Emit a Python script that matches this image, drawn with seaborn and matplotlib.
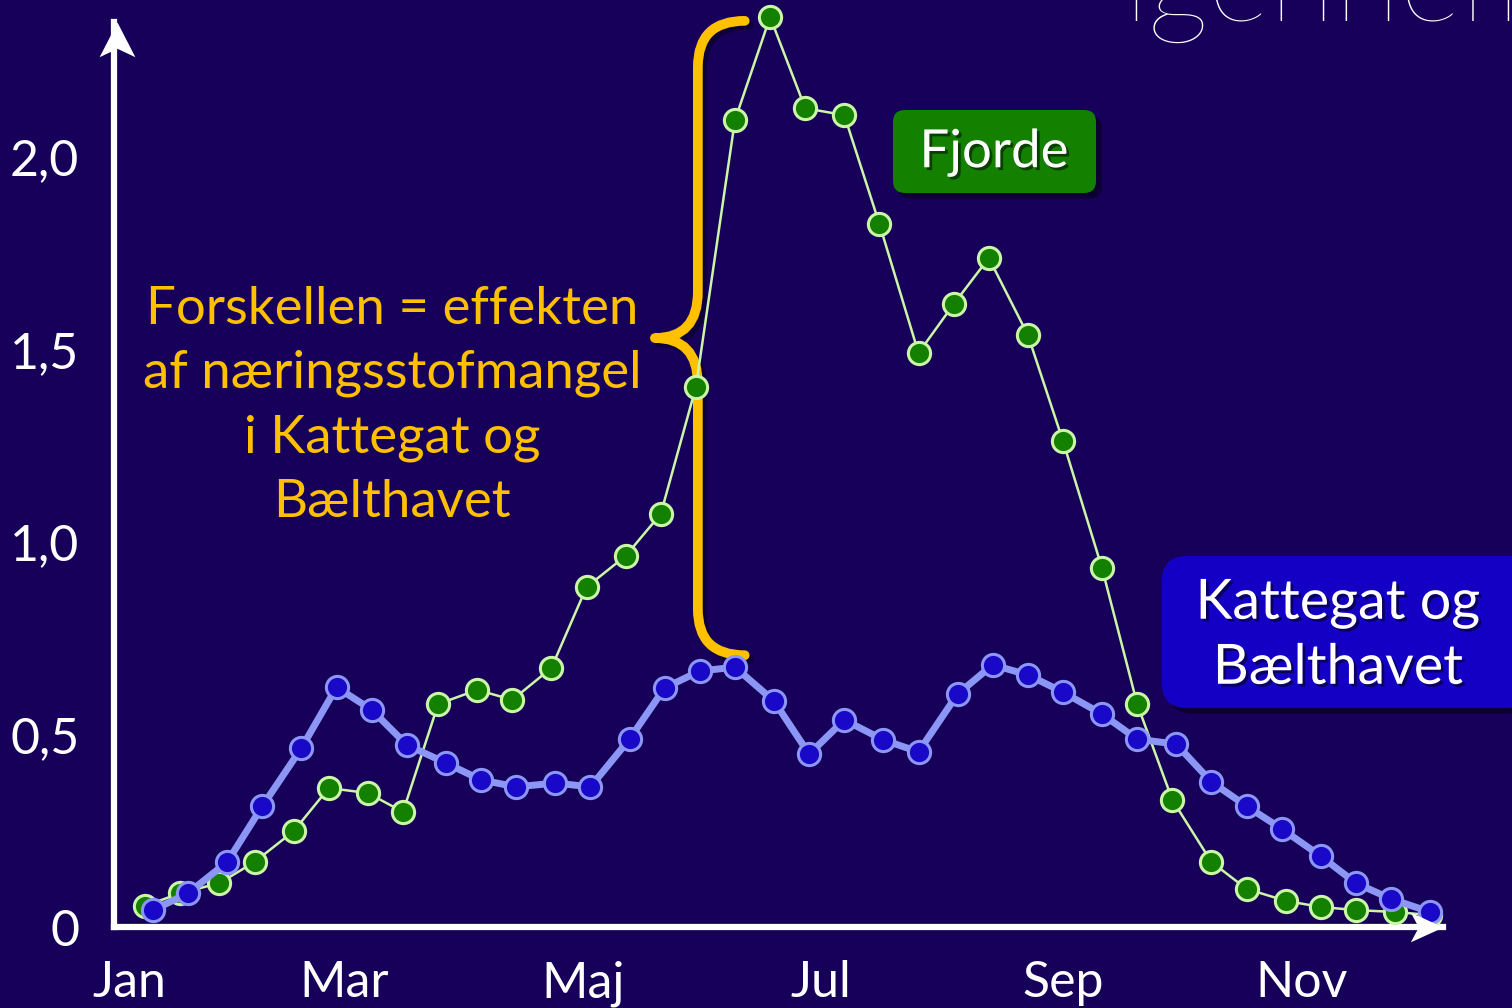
import matplotlib
matplotlib.use("Agg")
import matplotlib.pyplot as plt
import matplotlib.patheffects as pe
from matplotlib.patches import FancyBboxPatch, PathPatch
from matplotlib.path import Path
import seaborn as sns

# Day of year for each sample
fjord_day = [8, 17, 27, 36, 46, 55, 65, 74, 83, 93, 102, 112, 121, 131, 140, 149, 159, 168,
             177, 187, 196, 206, 215, 224, 234, 243, 253, 262, 271, 281, 290, 300, 309, 318, 328, 337]
fjord_value = [0.055, 0.088, 0.114, 0.169, 0.249, 0.361, 0.348, 0.299, 0.579, 0.616, 0.590, 0.673,
               0.883, 0.964, 1.073, 1.403, 2.096, 2.364, 2.127, 2.109, 1.826, 1.491, 1.618, 1.738,
               1.538, 1.262, 0.932, 0.579, 0.330, 0.169, 0.099, 0.068, 0.052, 0.044, 0.039, 0.031]

kattegat_day = [10, 19, 29, 38, 48, 57, 66, 75, 85, 94, 103, 113, 122, 132, 141, 150, 159, 169,
                178, 187, 197, 206, 216, 225, 234, 243, 253, 262, 272, 281, 290, 299, 309, 318, 327, 337]
kattegat_value = [0.044, 0.088, 0.169, 0.314, 0.465, 0.623, 0.564, 0.473, 0.426, 0.382, 0.364, 0.374,
                  0.364, 0.488, 0.621, 0.665, 0.675, 0.587, 0.449, 0.538, 0.486, 0.455, 0.605, 0.681,
                  0.655, 0.610, 0.553, 0.488, 0.475, 0.377, 0.314, 0.255, 0.184, 0.114, 0.073, 0.039]

month_ticks = [4, 59, 120, 181, 243, 304]
month_labels = ["Jan", "Mar", "Maj", "Jul", "Sep", "Nov"]
y_ticks = [0, 0.5, 1.0, 1.5, 2.0]
y_labels = ["0", "0,5", "1,0", "1,5", "2,0"]

BG = "#17005a"
GOLD = "#ffc000"

sns.set_style("white")
plt.rcParams["font.family"] = ["Lato", "DejaVu Sans"]

fig = plt.figure(figsize=(15.12, 10.08), dpi=100, facecolor=BG)
ax = fig.add_axes([114 / 1512, 81 / 1008, 1329 / 1512, 905 / 1008])
ax.set_facecolor(BG)

sns.lineplot(x=fjord_day, y=fjord_value, ax=ax, sort=False, color="#ccf5a8", lw=1.8,
             marker="o", markersize=16, markerfacecolor="#138000",
             markeredgecolor="#ccf5a8", markeredgewidth=2.2, zorder=3)
sns.lineplot(x=kattegat_day, y=kattegat_value, ax=ax, sort=False, color="#8c96f5", lw=5,
             marker="o", markersize=16, markerfacecolor="#1a08c8",
             markeredgecolor="#8c96f5", markeredgewidth=2.2, zorder=4)
for line in ax.lines:
    line.set_clip_on(False)

ax.set_xlim(0, 340.3)
ax.set_ylim(0, 2.351)
for side in ["top", "right"]:
    ax.spines[side].set_visible(False)
for side in ["left", "bottom"]:
    ax.spines[side].set_color("white")
    ax.spines[side].set_linewidth(4.5)
    ax.spines[side].set_zorder(2.5)

# stealth arrow heads at the axis ends
up_head = Path([(0, 0), (-17, -33), (0, -25), (17, -33), (0, 0)],
               [Path.MOVETO, Path.LINETO, Path.LINETO, Path.LINETO, Path.CLOSEPOLY])
right_head = Path([(0, 0), (-33, 15), (-25, 0), (-33, -15), (0, 0)],
                  [Path.MOVETO, Path.LINETO, Path.LINETO, Path.LINETO, Path.CLOSEPOLY])
ax.plot([0.002], [1], transform=ax.transAxes, marker=up_head, ms=50, color="white",
        mec="none", clip_on=False, zorder=5)
ax.plot([1], [0.0], transform=ax.transAxes, marker=right_head, ms=47, color="white",
        mec="none", clip_on=False, zorder=5)

ax.set_xticks(month_ticks)
ax.set_xticklabels(month_labels)
ax.set_yticks(y_ticks)
ax.set_yticklabels(y_labels)
ax.tick_params(axis="both", length=17, width=4, color="white", labelcolor="white",
               labelsize=36, direction="out")
ax.tick_params(axis="x", pad=7)
ax.tick_params(axis="y", pad=8)
ax.xaxis.get_major_ticks()[0].tick1line.set_visible(False)
ax.yaxis.get_major_ticks()[0].tick1line.set_visible(False)
ax.set_xlabel("")
ax.set_ylabel("")

# curly brace between the two peaks
y_top = max(fjord_value) - 0.01
y_bot = max(kattegat_value) + 0.025
y_mid = (y_top + y_bot) / 2
x_v, x_end, x_tip = 149.5, 161.5, 138.5
r = 0.12
verts = [(x_end, y_top), (x_v, y_top), (x_v, y_top - r),
         (x_v, y_mid + r), (x_v, y_mid), (x_tip, y_mid),
         (x_v, y_mid), (x_v, y_mid - r),
         (x_v, y_bot + r), (x_v, y_bot), (x_end, y_bot)]
codes = [Path.MOVETO, Path.CURVE3, Path.CURVE3,
         Path.LINETO, Path.CURVE3, Path.CURVE3,
         Path.CURVE3, Path.CURVE3,
         Path.LINETO, Path.CURVE3, Path.CURVE3]
brace = PathPatch(Path(verts, codes), fc="none", ec=GOLD, lw=7, capstyle="round",
                  joinstyle="round", zorder=2, clip_on=False,
                  path_effects=[pe.SimpleLineShadow(offset=(3, -3), alpha=0.35), pe.Normal()])
ax.add_patch(brace)

fig.text(392 / 1512, 1 - 406 / 1008,
         "Forskellen = effekten\naf næringsstofmangel\ni Kattegat og\nBælthavet",
         color=GOLD, fontsize=38, ha="center", va="center", linespacing=1.45)

# labels in rounded boxes
shadow = [pe.SimplePatchShadow(offset=(4, -4), shadow_rgbFace="black", alpha=0.45), pe.Normal()]
tshadow = [pe.SimplePatchShadow(offset=(2, -2), shadow_rgbFace="black", alpha=0.5), pe.Normal()]
box1 = FancyBboxPatch((8.93, 10.08 - 1.93), 2.03, 0.83, boxstyle="round,pad=0,rounding_size=0.12",
                      transform=fig.dpi_scale_trans, fc="#138000", ec="none", path_effects=shadow)
fig.add_artist(box1)
fig.text(994 / 1512, 1 - 153 / 1008, "Fjorde", color="white", fontsize=38,
         ha="center", va="center", path_effects=tshadow)
box2 = FancyBboxPatch((11.62, 10.08 - 7.08), 3.7, 1.52, boxstyle="round,pad=0,rounding_size=0.25",
                      transform=fig.dpi_scale_trans, fc="#1400c4", ec="none", path_effects=shadow)
fig.add_artist(box2)
fig.text(1338 / 1512, 1 - 636 / 1008, "Kattegat og\nBælthavet", color="white", fontsize=40,
         ha="center", va="center", linespacing=1.33, path_effects=tshadow)

# title cut off at the top edge
fig.text(1124 / 1512, 1 - 21 / 1008, "igennem", color="white", fontsize=86,
         fontweight="light", ha="left", va="baseline")

fig.savefig("out.png", dpi=100, facecolor=BG)
